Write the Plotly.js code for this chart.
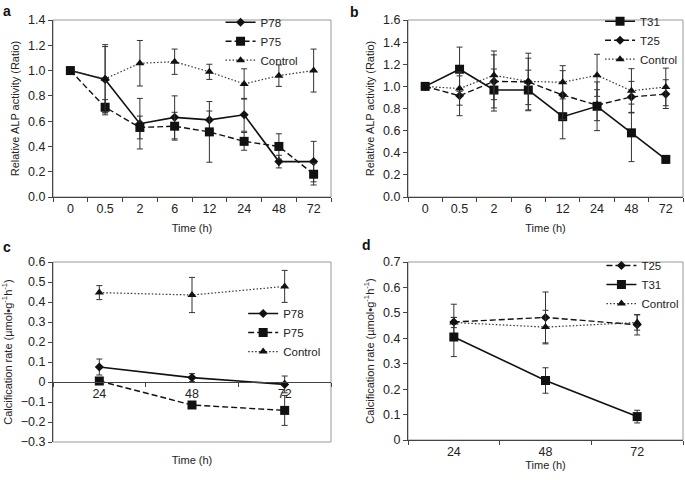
<!DOCTYPE html>
<html><head><meta charset="utf-8">
<script src="https://cdn.plot.ly/plotly-3.0.1.min.js"></script>
<style>body{margin:0;padding:0;background:#fff}#c{width:685px;height:480px}</style>
</head><body><div id="c"></div>
<script>
// ---- data ----
const catsAB = ["0","0.5","2","6","12","24","48","72"];
const aP78 = [1.0,0.93,0.58,0.63,0.61,0.65,0.28,0.28];
const aP78Err = [0,0.26,0.2,0.17,0.07,0.13,0.05,0.16];
const aP75 = [1.0,0.71,0.55,0.56,0.515,0.44,0.40,0.18];
const aP75Err = [0,0.06,0.09,0.11,0.24,0.07,0.1,0.085];
const aCtrl = [1.0,0.935,1.058,1.07,0.99,0.894,0.96,1.0];
const aCtrlErr = [0,0.27,0.18,0.1,0.06,0.12,0.085,0.17];

const bT31 = [1.0,1.155,0.967,0.967,0.726,0.82,0.58,0.34];
const bT31Err = [0,0.2,0.19,0.18,0.2,0.22,0.26,0.035];
const bT25 = [1.0,0.915,1.045,1.04,0.922,0.83,0.905,0.93];
const bT25Err = [0,0.18,0.24,0.26,0.22,0.14,0.14,0.13];
const bCtrl = [1.0,0.98,1.10,1.045,1.037,1.10,0.96,0.995];
const bCtrlErr = [0,0.15,0.22,0.21,0.15,0.19,0.2,0.17];

const catsCD = ["24","48","72"];
const cP78 = [0.075,0.022,-0.012];
const cP78Err = [0.04,0.02,0.042];
const cP75 = [0.005,-0.115,-0.142];
const cP75Err = [0.005,0.005,0.075];
const cCtrl = [0.447,0.435,0.478];
const cCtrlErr = [0.035,0.088,0.08];

const dT25 = [0.464,0.482,0.453];
const dT25Err = [0.07,0.10,0.04];
const dT31 = [0.405,0.234,0.092];
const dT31Err = [0.077,0.05,0.025];
const dCtrl = [0.462,0.444,0.462];
const dCtrlErr = [0.02,0.066,0.03];

// ---- styles ----
const FONT = "Liberation Sans, Arial, sans-serif";
const solid = {color:"#111", width:1.6, dash:"solid"};
const dashed = {color:"#111", width:1.4, dash:"6px,3px"};
const dotted = {color:"#333", width:1.2, dash:"1.5px,2px"};
const mDia = {symbol:"diamond", size:7, color:"#111"};
const mSq = {symbol:"square", size:9, color:"#111"};
const mTri = {symbol:"triangle-up", size:8, color:"#111"};
function err(a){return {type:"data", array:a, visible:true, color:"#333", thickness:1, width:3};}
function tr(name,x,y,e,line,marker,xa,ya,leg){
  return {type:"scatter", mode:"lines+markers", name:name, x:x, y:y, error_y:err(e),
    line:line, marker:marker, xaxis:xa, yaxis:ya, legend:leg, cliponaxis:false};
}
const traces = [
  tr("P78",catsAB,aP78,aP78Err,solid,mDia,"x","y","legend"),
  tr("P75",catsAB,aP75,aP75Err,dashed,mSq,"x","y","legend"),
  tr("Control",catsAB,aCtrl,aCtrlErr,dotted,mTri,"x","y","legend"),
  tr("T31",catsAB,bT31,bT31Err,solid,mSq,"x2","y2","legend2"),
  tr("T25",catsAB,bT25,bT25Err,dashed,mDia,"x2","y2","legend2"),
  tr("Control",catsAB,bCtrl,bCtrlErr,dotted,mTri,"x2","y2","legend2"),
  tr("P78",catsCD,cP78,cP78Err,solid,mDia,"x3","y3","legend3"),
  tr("P75",catsCD,cP75,cP75Err,dashed,mSq,"x3","y3","legend3"),
  tr("Control",catsCD,cCtrl,cCtrlErr,dotted,mTri,"x3","y3","legend3"),
  tr("T25",catsCD,dT25,dT25Err,dashed,mDia,"x4","y4","legend4"),
  tr("T31",catsCD,dT31,dT31Err,solid,mSq,"x4","y4","legend4"),
  tr("Control",catsCD,dCtrl,dCtrlErr,dotted,mTri,"x4","y4","legend4")
];

const tf = {family:FONT, size:12.5, color:"#222"};
const ttf = {family:FONT, size:11, color:"#222"};
function xax(dom, anchor, n, extra){
  return Object.assign({domain:dom, anchor:anchor, type:"category", range:[-0.5,n-0.5],
    showline:true, linecolor:"#444", linewidth:1, ticks:"outside", tickson:"boundaries",
    ticklen:4, tickcolor:"#444", showgrid:false, zeroline:false, tickfont:tf,
    title:{text:"Time (h)", font:ttf, standoff:9}}, extra||{});
}
function yax(dom, anchor, rng, dt, fmt, title, extra){
  return Object.assign({domain:dom, anchor:anchor, range:rng, dtick:dt, tick0:0, tickformat:fmt,
    showline:true, linecolor:"#444", linewidth:1, ticks:"outside", ticklen:4, tickcolor:"#444",
    showgrid:false, zeroline:false, tickfont:tf, title:{text:title, font:ttf, standoff:6}}, extra||{});
}
const xa = [53/685, 331/685], xb = [408/685, 683/685];
const ya = [1-197/480, 1-20/480], yc = [1-442/480, 1-262/480], yd = [1-440/480, 1-262/480];
const ALP = "Relative ALP activity (Ratio)";
const CAL = "Calcification rate (µmol•g<sup>-1</sup>h<sup>-1</sup>)";
const zeroPos = yc[0] + (0.3/0.9)*(yc[1]-yc[0]);

function box(xr, yr){return {type:"rect", xref:xr+" domain", yref:yr+" domain", x0:0, x1:1, y0:0, y1:1,
  line:{color:"#999", width:1}, layer:"below"};}
function leg(x,y){return {x:x, y:y, xanchor:"left", yanchor:"top", bgcolor:"rgba(0,0,0,0)",
  font:{family:FONT, size:11.5, color:"#222"}, itemwidth:30, tracegroupgap:0};}
function lab(t,x,y){return {text:"<b>"+t+"</b>", xref:"paper", yref:"paper", x:x, y:y, xanchor:"left",
  yanchor:"middle", showarrow:false, font:{family:FONT, size:14, color:"#111"}};}

const layout = {
  width:685, height:480, margin:{l:0,r:0,t:0,b:0}, paper_bgcolor:"#fff", plot_bgcolor:"#fff",
  font:{family:FONT, size:11, color:"#222"},
  xaxis: xax(xa,"y",8),
  yaxis: yax(ya,"x",[0,1.4],0.2,".1f",ALP),
  xaxis2: xax(xb,"y2",8),
  yaxis2: yax(ya,"x2",[0,1.6],0.2,".1f",ALP),
  xaxis3: xax(xa,"free",3,{position:zeroPos, title:{text:"Time (h)", font:ttf, standoff:56}}),
  yaxis3: yax(yc,"x3",[-0.3,0.6],0.1,"",CAL),
  xaxis4: xax(xb,"y4",3,{title:{text:"Time (h)", font:ttf, standoff:3}}),
  yaxis4: yax(yd,"x4",[0,0.7],0.1,"",CAL),
  legend: leg(0.322,0.984),
  legend2: leg(0.876,0.986),
  legend3: leg(0.355,0.377),
  legend4: leg(0.878,0.477),
  shapes:[box("x","y"),box("x2","y2"),box("x3","y3"),box("x4","y4")],
  annotations:[lab("a",0.002,0.978),lab("b",0.508,0.975),lab("c",0.002,0.485),lab("d",0.525,0.49)]
};
Plotly.newPlot("c", traces, layout, {displayModeBar:false, staticPlot:true});
</script></body></html>
